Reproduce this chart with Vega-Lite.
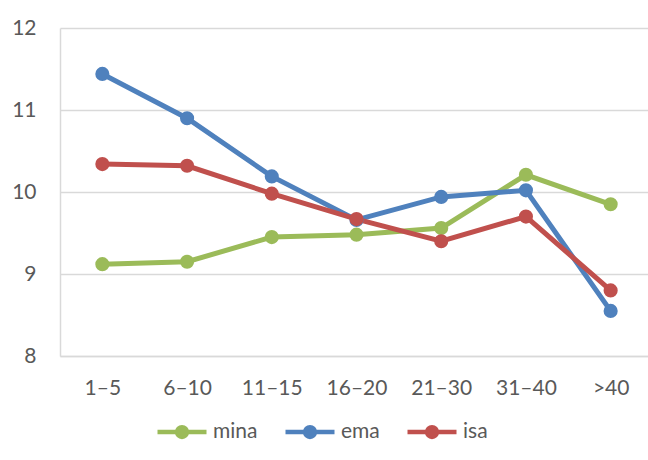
{
  "$schema": "https://vega.github.io/schema/vega-lite/v6.json",
  "width": 593,
  "height": 328,
  "autosize": {"type": "none"},
  "padding": {"left": 60, "top": 28, "right": 0, "bottom": 104},
  "background": "white",
  "config": {
    "view": {"stroke": null},
    "font": "Lato",
    "axis": {"labelFont": "Lato", "labelColor": "#595959", "labelFontSize": 21}
  },
  "data": {
    "values": [
      {"series": "mina", "group": "1–5", "value": 9.12},
      {"series": "mina", "group": "6–10", "value": 9.15},
      {"series": "mina", "group": "11–15", "value": 9.45},
      {"series": "mina", "group": "16–20", "value": 9.48},
      {"series": "mina", "group": "21–30", "value": 9.56},
      {"series": "mina", "group": "31–40", "value": 10.21},
      {"series": "mina", "group": ">40", "value": 9.85},
      {"series": "ema", "group": "1–5", "value": 11.44},
      {"series": "ema", "group": "6–10", "value": 10.9},
      {"series": "ema", "group": "11–15", "value": 10.19},
      {"series": "ema", "group": "16–20", "value": 9.66},
      {"series": "ema", "group": "21–30", "value": 9.94},
      {"series": "ema", "group": "31–40", "value": 10.02},
      {"series": "ema", "group": ">40", "value": 8.55},
      {"series": "isa", "group": "1–5", "value": 10.34},
      {"series": "isa", "group": "6–10", "value": 10.32},
      {"series": "isa", "group": "11–15", "value": 9.98},
      {"series": "isa", "group": "16–20", "value": 9.67},
      {"series": "isa", "group": "21–30", "value": 9.4},
      {"series": "isa", "group": "31–40", "value": 9.7},
      {"series": "isa", "group": ">40", "value": 8.8}
    ]
  },
  "mark": {
    "type": "line",
    "strokeWidth": 5,
    "point": {"filled": true, "size": 200, "opacity": 1}
  },
  "encoding": {
    "x": {
      "field": "group",
      "type": "ordinal",
      "sort": ["1–5", "6–10", "11–15", "16–20", "21–30", "31–40", ">40"],
      "scale": {"padding": 0.5},
      "axis": {
        "title": null,
        "labelAngle": 0,
        "ticks": false,
        "domain": true,
        "domainColor": "#D9D9D9",
        "domainWidth": 1.5,
        "labelPadding": 21,
        "grid": false
      }
    },
    "y": {
      "field": "value",
      "type": "quantitative",
      "scale": {"domain": [8, 12], "nice": false, "zero": false},
      "axis": {
        "title": null,
        "values": [8, 9, 10, 11, 12],
        "ticks": false,
        "domain": true,
        "domainColor": "#D9D9D9",
        "domainWidth": 1.5,
        "gridColor": "#D9D9D9",
        "gridWidth": 1.5,
        "labelPadding": 24
      }
    },
    "color": {
      "field": "series",
      "type": "nominal",
      "sort": ["mina", "ema", "isa"],
      "scale": {"domain": ["mina", "ema", "isa"], "range": ["#9BBB59", "#4F81BD", "#C0504D"]},
      "legend": {
        "title": null,
        "orient": "none",
        "legendX": 95,
        "legendY": 377,
        "direction": "horizontal",
        "symbolType": "M-1,0H1M-0.2,0A0.2,0.2,0,1,0,0.2,0A0.2,0.2,0,1,0,-0.2,0Z",
        "symbolSize": 2401,
        "symbolStrokeWidth": 4.5,
        "labelFont": "Lato",
        "labelFontSize": 21,
        "labelColor": "#595959",
        "labelOffset": 4,
        "columnPadding": 18,
        "encode": {
          "symbols": {"update": {"fill": {"scale": "color", "field": "value"}, "opacity": {"value": 1}}}
        }
      }
    }
  }
}
